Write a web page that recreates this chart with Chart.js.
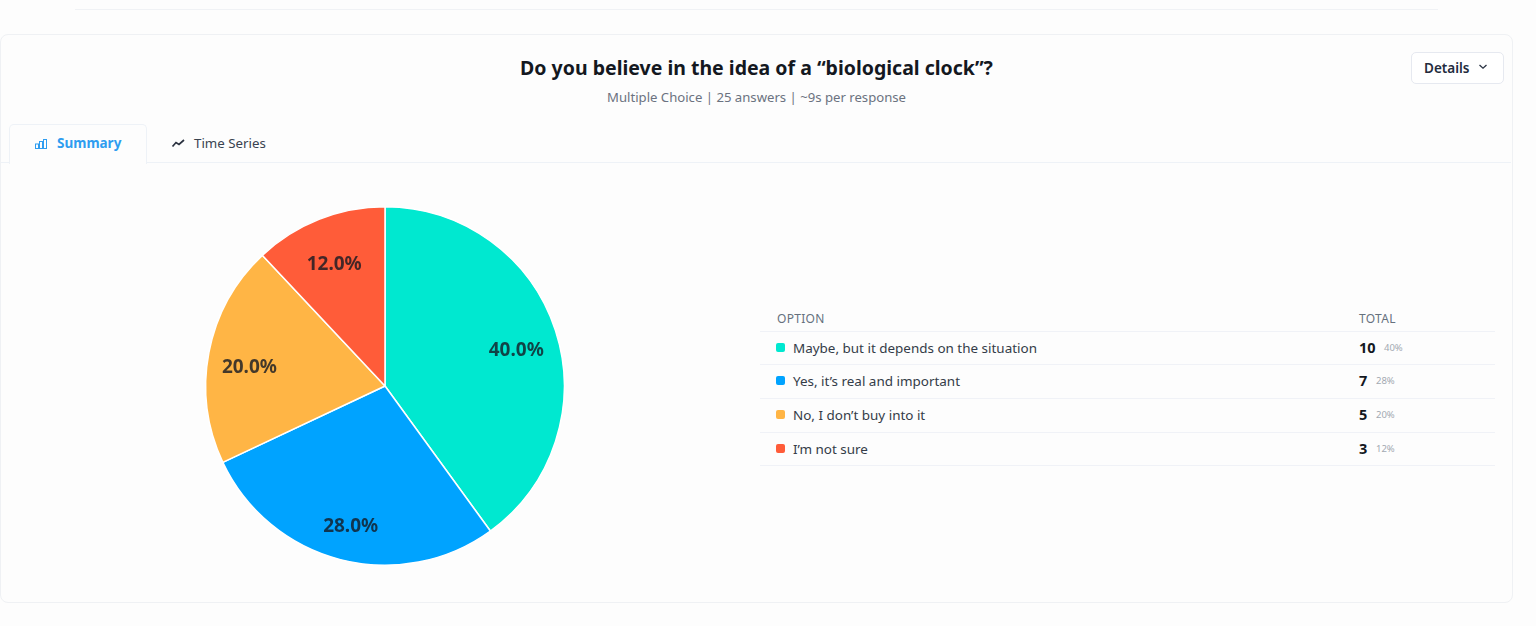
<!DOCTYPE html>
<html><head><meta charset="utf-8">
<script src="https://cdn.jsdelivr.net/npm/chart.js@4"></script>
<style>
html,body{margin:0;padding:0;background:#fdfdfd;width:1536px;height:626px;overflow:hidden;font-family:"Noto Sans","Open Sans",sans-serif;color:#1f2733}
.abs{position:absolute;white-space:nowrap}
#top{left:75px;top:9px;width:1363px;height:1px;background:#f0f2f5}
#card{left:0;top:34px;width:1511px;height:567px;border:1px solid #eff1f4;border-radius:8px;box-sizing:content-box;background:#fdfdfd}
#title{left:0;width:1513px;top:54px;text-align:center;font-size:19.5px;font-weight:700;color:#14181f;line-height:28px}
#sub{left:0;width:1513px;top:87px;text-align:center;font-size:13.15px;color:#6b7280;line-height:20px}
#details{left:1411px;top:52px;width:91px;height:30px;border:1px solid #e6e9f0;border-radius:5px;background:#fff}
#dt{left:1424px;top:58px;font-size:13.5px;font-weight:600;line-height:20px;color:#232c3d}
#tabline{left:1px;top:162px;width:1510px;height:1px;background:#eef2f7}
#tab{left:9px;top:124px;width:136px;height:39px;border:1px solid #eef2f7;border-bottom:none;border-radius:5px 5px 0 0;background:#fdfdfd;box-sizing:content-box}
#t1{left:57px;top:133px;font-size:13.5px;font-weight:700;color:#2f9df0;line-height:20px}
#t2{left:194px;top:133px;font-size:13.3px;color:#3a4350;line-height:20px}
.hd{font-size:12px;color:#66717d;line-height:16px;letter-spacing:.3px}
.rule{left:760px;width:735px;height:1px;background:#f0f2f7}
.lab{left:793px;font-size:13.45px;color:#343c48;line-height:20px}
.sw{left:776px;width:9px;height:9px;border-radius:2px}
.num{left:1359px;font-size:14.5px;font-weight:700;color:#14181f;line-height:20px}
.pct{font-size:9.5px;color:#a3a9b2;line-height:20px}
#wrap{left:185px;top:186px;width:400px;height:400px}
</style></head><body>
<div class="abs" id="top"></div>
<div class="abs" id="card"></div>
<div class="abs" id="title">Do you believe in the idea of a “biological clock”?</div>
<div class="abs" id="sub">Multiple Choice | 25 answers | ~9s per response</div>
<div class="abs" id="details"></div>
<div class="abs" id="dt">Details</div>
<svg class="abs" style="left:1478px;top:63px" width="10" height="8"><path d="M1.5 2 L5 5.2 L8.5 2" fill="none" stroke="#2b3444" stroke-width="1.3"/></svg>
<div class="abs" id="tabline"></div>
<div class="abs" id="tab"></div>
<svg class="abs" style="left:34px;top:138px" width="14" height="12"><g fill="none" stroke="#2f9df0" stroke-width="1"><rect x="1.5" y="6" width="3" height="4.5"/><rect x="5.5" y="3.5" width="3" height="7"/><rect x="9.5" y="1.5" width="3" height="9"/></g></svg>
<div class="abs" id="t1">Summary</div>
<svg class="abs" style="left:171px;top:138px" width="15" height="11"><path d="M1.5 8.5 L5 4.5 L8 6.5 L13 2" fill="none" stroke="#2b3240" stroke-width="1.7"/></svg>
<div class="abs" id="t2">Time Series</div>
<div class="abs" id="wrap"><canvas id="c" width="400" height="400"></canvas></div>
<div class="abs hd" style="left:777px;top:311px">OPTION</div>
<div class="abs hd" style="left:1359px;top:311px">TOTAL</div>
<div id="rows"></div>
<script>
const categories = ["Maybe, but it depends on the situation", "Yes, it’s real and important", "No, I don’t buy into it", "I’m not sure"];
const answerCounts = [10, 7, 5, 3];
const sliceLabels = ["40.0%", "28.0%", "20.0%", "12.0%"];
const tablePercents = ["40%", "28%", "20%", "12%"];
const sliceColors = ["#00E8D0", "#00A3FF", "#FFB545", "#FF5C39"];

const rowTops = [348, 381, 415, 449];
const ruleTops = [331, 364, 398, 432, 465];
const rows = document.getElementById('rows');
let html = '';
ruleTops.forEach(t => html += `<div class="abs rule" style="top:${t}px"></div>`);
categories.forEach((c, i) => {
  const y = rowTops[i];
  const pl = answerCounts[i] >= 10 ? 1384 : 1376;
  html += `<div class="abs sw" style="top:${y-5}px;background:${sliceColors[i]}"></div>`;
  html += `<div class="abs lab" style="top:${y-10}px">${c}</div>`;
  html += `<div class="abs num" style="top:${y-11}px">${answerCounts[i]}</div>`;
  html += `<div class="abs pct" style="left:${pl}px;top:${y-10}px">${tablePercents[i]}</div>`;
});
rows.innerHTML = html;

const sliceText = {
  id: 'sliceText',
  afterDatasetsDraw(chart) {
    const ctx = chart.ctx;
    const meta = chart.getDatasetMeta(0);
    ctx.save();
    ctx.font = '700 19px "Noto Sans","Open Sans",sans-serif';
    ctx.fillStyle = 'rgba(20,25,35,0.8)';
    ctx.textAlign = 'center';
    ctx.textBaseline = 'middle';
    meta.data.forEach((arc, i) => {
      const p = arc.getProps(['x','y','startAngle','endAngle','outerRadius'], true);
      const a = (p.startAngle + p.endAngle) / 2;
      const r = p.outerRadius * 0.77;
      ctx.fillText(sliceLabels[i], p.x + Math.cos(a) * r, p.y + Math.sin(a) * r + 7);
    });
    ctx.restore();
  }
};

new Chart(document.getElementById('c'), {
  type: 'pie',
  data: { labels: categories, datasets: [{ data: answerCounts, backgroundColor: sliceColors, borderColor: '#ffffff', borderWidth: 1.5 }] },
  options: {
    responsive: false, animation: false,
    layout: { padding: 20 },
    plugins: { legend: { display: false }, tooltip: { enabled: false } }
  },
  plugins: [sliceText]
});
</script>
</body></html>
